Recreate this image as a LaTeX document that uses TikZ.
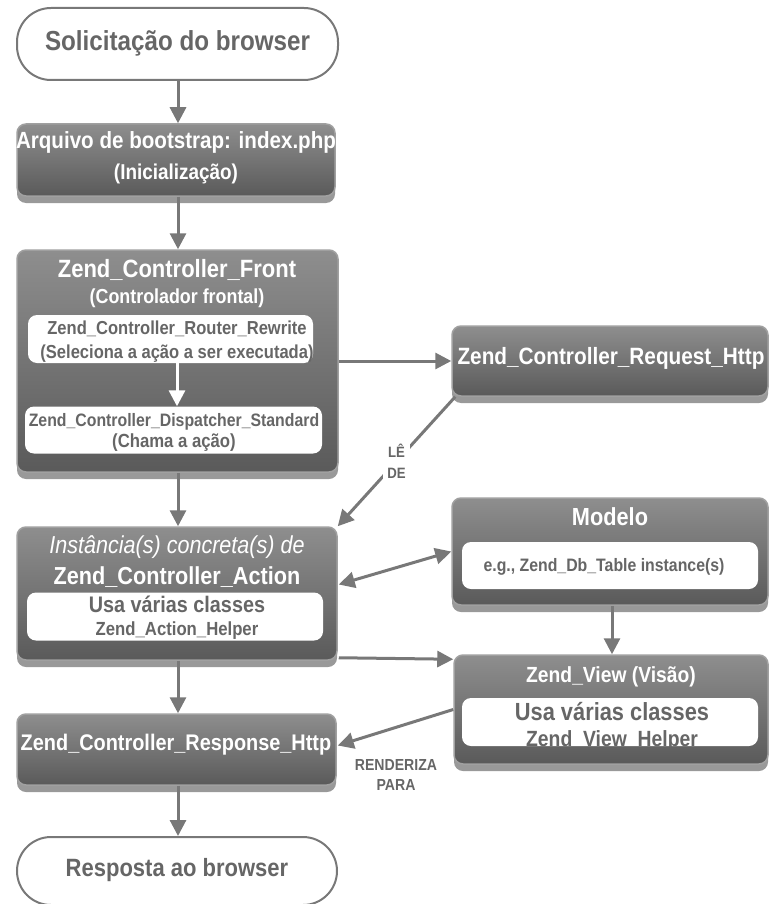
\documentclass[tikz,border=0pt]{standalone}
\usepackage{fontspec}
\setmainfont[FakeStretch=0.88]{Liberation Sans}
\usetikzlibrary{arrows.meta,shadows,calc}
\definecolor{arrgray}{HTML}{787878}
\definecolor{txtgray}{HTML}{666666}
\definecolor{boxtop}{HTML}{8E8E8E}
\definecolor{boxbot}{HTML}{5A5A5A}
\definecolor{boxedge}{HTML}{A0A0A0}
\newcommand{\fsz}[1]{\fontsize{#1}{#1}\selectfont}
\newcommand{\fsy}[2]{\fontsize{#1}{#2}\selectfont}
\tikzset{
 term/.style={draw=arrgray, line width=2pt, rounded corners=34pt, fill=white, inner sep=0pt},
 dbox/.style={rounded corners=9pt, top color=boxtop, bottom color=boxbot, draw=boxedge, line width=1.5pt,
   drop shadow={shadow xshift=0pt,shadow yshift=-7pt,opacity=0.4,fill=black}, inner sep=0pt},
 wbox/.style={fill=white, rounded corners=9pt, inner sep=0pt},
 tip/.tip={Triangle[length=16pt,width=16pt]},
 arr/.style={draw=arrgray, line width=3pt, -tip},
 darr/.style={draw=arrgray, line width=3pt, tip-tip},
 wt/.style={text=white, font=\bfseries, align=center, inner sep=0pt},
 gt/.style={text=txtgray, font=\bfseries, align=center, inner sep=0pt},
}
\begin{document}
\begin{tikzpicture}[x=1pt,y=-1pt]
\useasboundingbox (0,0) rectangle (771,904);
% terminators
\node[term, minimum width=321pt, minimum height=72pt] (start) at (177.5,44) {};
\node[gt] (starttxt) at (177.5,43) {\fsz{27.5}Solicitação do browser};
\node[term, minimum width=320pt, minimum height=68pt] (end) at (177,871) {};
\node[gt] (endtxt) at (177,870) {\fsz{25}Resposta ao browser};
% bootstrap
\node[dbox, minimum width=318pt, minimum height=72pt] (boot) at (176,160) {};
\node[wt] (boott1) at (176,142) {\fsz{23.4}Arquivo de bootstrap: index.php};
\node[wt] (boott2) at (176,174) {\fsz{21.5}(Inicialização)};
% front controller
\node[dbox, minimum width=321pt, minimum height=222pt] (front) at (177.5,361) {};
\node[wt] (frontt1) at (177,270) {\fsz{25}Zend\_Controller\_Front};
\node[wt] (frontt2) at (177,298) {\fsz{20.3}(Controlador frontal)};
\node[wbox, minimum width=285pt, minimum height=48pt] (router) at (170.5,339) {};
\node[gt, font=\bfseries\fsy{18.8}{24}] (routert) at (177,342) {Zend\_Controller\_Router\_Rewrite\\(Seleciona a ação a ser executada)};
\node[wbox, minimum width=297pt, minimum height=47pt] (disp) at (173.5,430) {};
\node[gt, font=\bfseries\fsy{18}{21}] (dispt) at (174,432) {Zend\_Controller\_Dispatcher\_Standard\\\fsy{19}{21}(Chama a ação)};
\draw[draw=white, line width=3pt, -tip] (router.south -| 177,0) -- (disp.north -| 177,0);
% request
\node[dbox, minimum width=316pt, minimum height=70pt] (req) at (610,361) {};
\node[wt] (reqt) at (611,358) {\fsz{23.6}Zend\_Controller\_Request\_Http};
% action
\node[dbox, minimum width=320pt, minimum height=133pt] (act) at (177,593.5) {};
\node[wt, font=\itshape] (actt1) at (177,547) {\fsz{24.5}Instância(s) concreta(s) de};
\node[wt] (actt2) at (177,577) {\fsz{24.6}Zend\_Controller\_Action};
\node[wbox, minimum width=296pt, minimum height=48pt] (actin) at (175,616.5) {};
\node[gt, font=\bfseries\fsy{22.5}{23}] (actint) at (177,618) {Usa várias classes\\\fsy{19}{23}Zend\_Action\_Helper};
% modelo
\node[dbox, minimum width=316pt, minimum height=107pt] (mod) at (610,551.5) {};
\node[wt] (modt) at (610,517) {\fsz{24.7}Modelo};
\node[wbox, minimum width=296pt, minimum height=47pt] (modin) at (610,565.5) {};
\node[gt] (modint) at (604,567) {\fsz{18}e.g., Zend\_Db\_Table instance(s)};
% view
\node[dbox, minimum width=314pt, minimum height=109pt] (view) at (611,709.5) {};
\node[wt] (viewt) at (611,677) {\fsz{21.9}Zend\_View (Visão)};
\node[wbox, minimum width=296pt, minimum height=48pt] (viewin) at (610,722) {};
\begin{scope}
\clip[rounded corners=9pt] (462,698) rectangle (758,746);
\node[gt] (viewint1) at (612,712) {\fsz{24.8}Usa várias classes};
\node[gt] (viewint2) at (612,741) {\fsz{22}Zend\_View\_Helper};
\end{scope}
% response
\node[dbox, minimum width=319pt, minimum height=71pt] (resp) at (176.5,749.5) {};
\node[wt] (respt) at (176,745) {\fsz{22.6}Zend\_Controller\_Response\_Http};
% connectors
\draw[arr] (start.south -| 178,0) -- (boot.north -| 178,0);
\draw[arr] (boot.south -| 178,0) -- (front.north -| 178,0);
\draw[arr] (front.east) -- (req.west);
\draw[arr] ($(req.south west)+(4,0)$) -- node[gt, fill=white, inner sep=4pt, font=\bfseries\fsy{15}{21}] (lede) {LÊ\\DE} (act.north east);
\draw[arr] (front.south -| 178,0) -- (act.north -| 178,0);
\draw[darr] ($(act.east)+(1,-9)$) -- (mod.west);
\draw[arr] (mod.south -| 612,0) -- (view.north -| 612,0);
\draw[arr] ($(act.south east)+(1,-3)$) -- ($(view.north west)+(0,5)$);
\draw[arr] (act.south -| 178,0) -- (resp.north -| 178,0);
\draw[arr] (view.west) -- ($(resp.east)+(1,-4)$);
\node[gt, font=\bfseries\fsy{16}{20}] (rend) at (396,775) {RENDERIZA\\PARA};
\draw[arr] (resp.south -| 178,0) -- (end.north -| 178,0);
\end{tikzpicture}
\end{document}
